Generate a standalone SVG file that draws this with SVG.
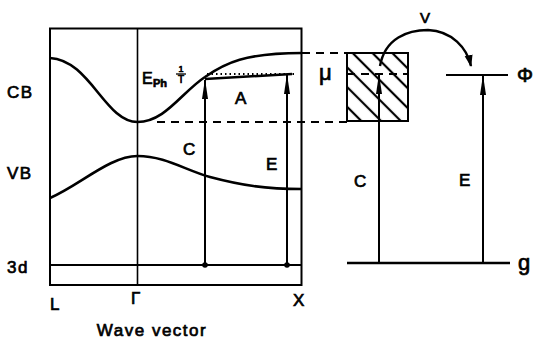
<svg xmlns="http://www.w3.org/2000/svg" width="533" height="339" viewBox="0 0 533 339">
<style>
.ln{fill:none;stroke:#000;stroke-width:2}
.th{fill:none;stroke:#000;stroke-width:1.6}
.cv{fill:none;stroke:#000;stroke-width:2.6}
.ds{fill:none;stroke:#000;stroke-width:1.8;stroke-dasharray:8 6}
.dt{fill:none;stroke:#000;stroke-width:1.8;stroke-dasharray:1.5 3}
.ar{fill:none;stroke:#000;stroke-width:2;marker-end:url(#ah)}
text{font-family:"Liberation Sans",Arial,sans-serif;fill:#000;stroke:#000;stroke-width:0.7}
.lb{font-size:17px;letter-spacing:1.5px}
.sm{font-size:17px}
</style>
<defs>
<marker id="ah" viewBox="0 0 20 8" refX="19" refY="4" markerWidth="20" markerHeight="8" orient="auto" markerUnits="userSpaceOnUse">
<path d="M0,1 L20,4 L0,7 Z" fill="#000"/>
</marker>
<marker id="ah2" viewBox="0 0 12 9" refX="11" refY="4.5" markerWidth="12" markerHeight="9" orient="auto" markerUnits="userSpaceOnUse">
<path d="M0,0.5 L12,4.5 L0,8.5 Z" fill="#000"/>
</marker>
<pattern id="hatch" width="14" height="14" patternUnits="userSpaceOnUse" patternTransform="translate(347,53) rotate(-45)">
<line x1="4" y1="0" x2="4" y2="14" stroke="#000" stroke-width="2.2"/>
</pattern>
</defs>

<g id="band-diagram">
<rect x="50" y="28.5" width="251.5" height="256.5" class="ln"/>
<line x1="137.5" y1="28.5" x2="137.5" y2="285" class="th"/>
<line x1="50" y1="265" x2="301.5" y2="265" class="ln"/>
<path id="cb-curve" class="cv" d="M50,58 C90,60 105,122 137.5,122 C165,122 182,92 205,77 C225,63 245,53 302,53"/>
<path id="vb-curve" class="cv" d="M50,198 C80,185 110,156 137.5,156 C165,156 185,170 210,177 C240,185 265,189 302,189"/>
<line x1="207" y1="74" x2="297" y2="74" class="dt"/>
<line x1="205" y1="79" x2="292" y2="74" class="cv"/>
</g>

<g id="labels-left">
<text x="7" y="98" class="lb">CB</text>
<text x="7" y="179" class="lb">VB</text>
<text x="7" y="273" class="lb">3d</text>
<text x="50" y="310" class="lb">L</text>
<text x="131" y="304" class="lb">Γ</text>
<text x="293" y="306" class="lb">X</text>
<text x="152" y="336" class="lb" text-anchor="middle">Wave vector</text>
<text x="183" y="155" class="lb">C</text>
<text x="266" y="170" class="lb">E</text>
<text x="235" y="104" class="lb">A</text>
<text x="142" y="84" font-size="16">E</text>
<text x="153" y="87" font-size="11" font-weight="bold">Ph</text>
<text x="181" y="72" font-size="9" text-anchor="middle">1</text>
<line x1="176" y1="74" x2="186" y2="74" stroke="#000" stroke-width="1.3"/>
<text x="181" y="83" font-size="10" text-anchor="middle">T</text>
</g>

<g id="level-scheme">
<rect x="347" y="53" width="61" height="68" fill="url(#hatch)" stroke="#000" stroke-width="2"/>
<line x1="347" y1="74" x2="408" y2="74" class="ds"/>
<line x1="446" y1="75" x2="508" y2="75" class="ln"/>
<line x1="347" y1="263" x2="510" y2="263" class="cv"/>
<text x="319" y="80" font-size="22">μ</text>
<text x="517" y="82" font-size="20">Φ</text>
<text x="518" y="270" font-size="22">g</text>
<text x="354" y="187" class="sm">C</text>
<text x="459" y="186" class="sm">E</text>
<text x="420" y="23" font-size="15">V</text>
</g>

<g id="connectors">
<line x1="302" y1="53" x2="347" y2="53" class="ds"/>
<line x1="157" y1="122" x2="347" y2="122" class="ds"/>
<line x1="205" y1="265" x2="205" y2="80" class="ar"/>
<line x1="287" y1="265" x2="287" y2="75" class="ar"/>
<circle cx="205" cy="265" r="2.8"/>
<circle cx="287" cy="265" r="2.8"/>
<line x1="379" y1="263" x2="379" y2="75" class="ar"/>
<line x1="483" y1="263" x2="483" y2="76" class="ar"/>
<path d="M380,66 C385,38 408,30 428,30 C452,31 467,48 471,66" fill="none" stroke="#000" stroke-width="2.4" marker-end="url(#ah2)"/>
</g>
</svg>
